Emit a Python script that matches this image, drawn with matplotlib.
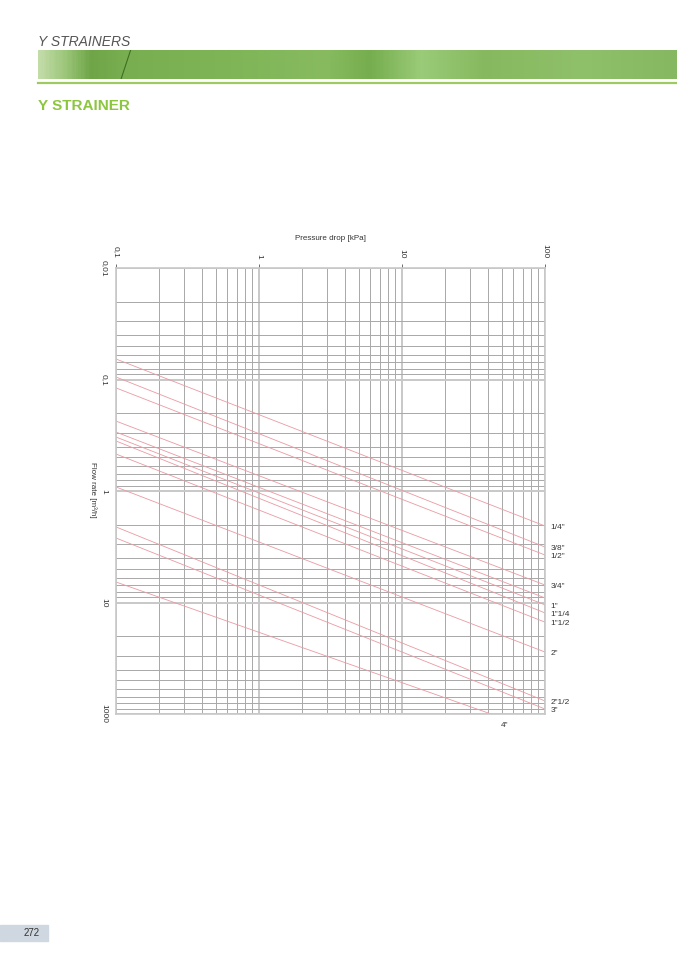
import numpy as np
import matplotlib
matplotlib.use("Agg")
import matplotlib.pyplot as plt
from matplotlib.colors import LinearSegmentedColormap
from matplotlib.ticker import LogLocator, NullFormatter

plt.rcParams['font.family'] = ['Liberation Sans', 'DejaVu Sans']

# Curves: flow rate read at 0.1 kPa (left edge) and at 100 kPa (right edge)
sizes = ['1/4"', '3/8"', '1/2"', '3/4"', '', '1"', '1"1/4', '1"1/2', '2"', '2"1/2', '3"', '4"']
q_left = [0.0655, 0.095, 0.119, 0.236, 0.296, 0.328, 0.356, 0.466, 0.92, 2.10, 2.64, 6.55]
q_right = [2.06, 3.18, 3.75, 6.97, 9.1, 10.5, 12.4, 15.0, 27.8, 76.4, 90.2, 148]
dp_ends = [0.1, 100]

x_ticks = [0.1, 1, 10, 100]
x_ticklabels = ['0,1', '1', '10', '100']
y_ticks = [0.01, 0.1, 1, 10, 100]
y_ticklabels = ['0,01', '0,1', '1', '10', '1000']

W, H = 677, 958
fig = plt.figure(figsize=(W / 100, H / 100), dpi=100)

# header
fig.text(38 / W, 1 - 46 / H, 'Y STRAINERS', fontsize=10, style='italic',
         color='#555555')

band = fig.add_axes([38 / W, 1 - 79 / H, 1 - 38 / W, 29 / H])
cmap = LinearSegmentedColormap.from_list('band', [
    (0.0, '#c2dca8'), (0.04, '#9cc67a'), (0.08, '#6fa548'), (0.13, '#78ae50'),
    (0.3, '#7fb457'), (0.45, '#88bb60'), (0.52, '#76ad4e'), (0.6, '#9acb78'),
    (0.7, '#86b95f'), (0.85, '#8fc06a'), (1.0, '#86b862')])
band.imshow(np.linspace(0, 1, 400)[None, :], aspect='auto', cmap=cmap,
            extent=[0, 1, 0, 1])
band.plot([0.13, 0.145], [0, 1], color='#3f6e22', lw=0.8)
band.set_xlim(0, 1)
band.set_ylim(0, 1)
band.axis('off')

fig.add_artist(plt.Line2D([38 / W, 1], [1 - 83 / H, 1 - 83 / H],
                          color='#9fca62', lw=1.6, transform=fig.transFigure))

fig.text(38 / W, 1 - 110 / H, 'Y STRAINER', fontsize=11, fontweight='bold',
         color='#8cc63f')

# page number
fig.add_artist(plt.Rectangle((0, 1 - 941 / H), 48 / W, 16 / H, color='#cfd8e0',
                             transform=fig.transFigure))
fig.text(40 / W, 1 - 933 / H, '272', fontsize=7, ha='right', va='center', color='#333333')

# chart
ax = fig.add_axes([116 / W, 1 - 714 / H, 429 / W, 446 / H])
ax.set_xscale('log')
ax.set_yscale('log')
ax.set_xlim(0.1, 100)
ax.set_ylim(100, 0.01)

ax.xaxis.set_minor_locator(LogLocator(base=10, subs=np.arange(2, 10)))
ax.yaxis.set_minor_locator(LogLocator(base=10, subs=np.arange(2, 10)))
ax.xaxis.set_minor_formatter(NullFormatter())
ax.yaxis.set_minor_formatter(NullFormatter())
ax.grid(which='major', color='#c8c8c8', lw=1.4)
ax.grid(which='minor', color='#a8a8a8', lw=0.7)
ax.set_axisbelow(True)

for sp in ax.spines.values():
    sp.set_color('#c8c8c8')
    sp.set_linewidth(1.2)

ax.xaxis.tick_top()
ax.set_xticks(x_ticks)
ax.set_xticklabels(x_ticklabels, rotation=-90, fontsize=6, color='#333333')
ax.set_yticks(y_ticks)
ax.set_yticklabels(y_ticklabels, rotation=-90, fontsize=6, color='#333333', va='center')
ax.tick_params(axis='x', which='major', length=3, width=0.6, color='#555555', pad=4)
ax.tick_params(axis='y', which='major', length=0, pad=6)
ax.tick_params(which='minor', length=0)

for name, ql, qr in zip(sizes, q_left, q_right):
    ax.plot(dp_ends, [ql, qr], color='#ea9aa2', lw=0.6)
    if name and name != '4"':
        ax.annotate(name, xy=(100, qr), xytext=(4, -1), textcoords='offset points',
                    ha='left', va='center', fontsize=6, color='#333333',
                    annotation_clip=False)

ax.annotate('4"', xy=(52.5, 0), xycoords=('data', 'axes fraction'),
            xytext=(0, -8), textcoords='offset points', ha='center', va='center',
            fontsize=6, color='#333333', annotation_clip=False)

fig.text(330 / W, 1 - 238 / H, 'Pressure drop [kPa]', fontsize=5.8,
         ha='center', va='center', color='#333333')
fig.text(93 / W, 1 - 490 / H, 'Flow rate [m³/h]', fontsize=5.8, rotation=-90,
         ha='center', va='center', color='#333333')

fig.savefig('out.png', dpi=100)
